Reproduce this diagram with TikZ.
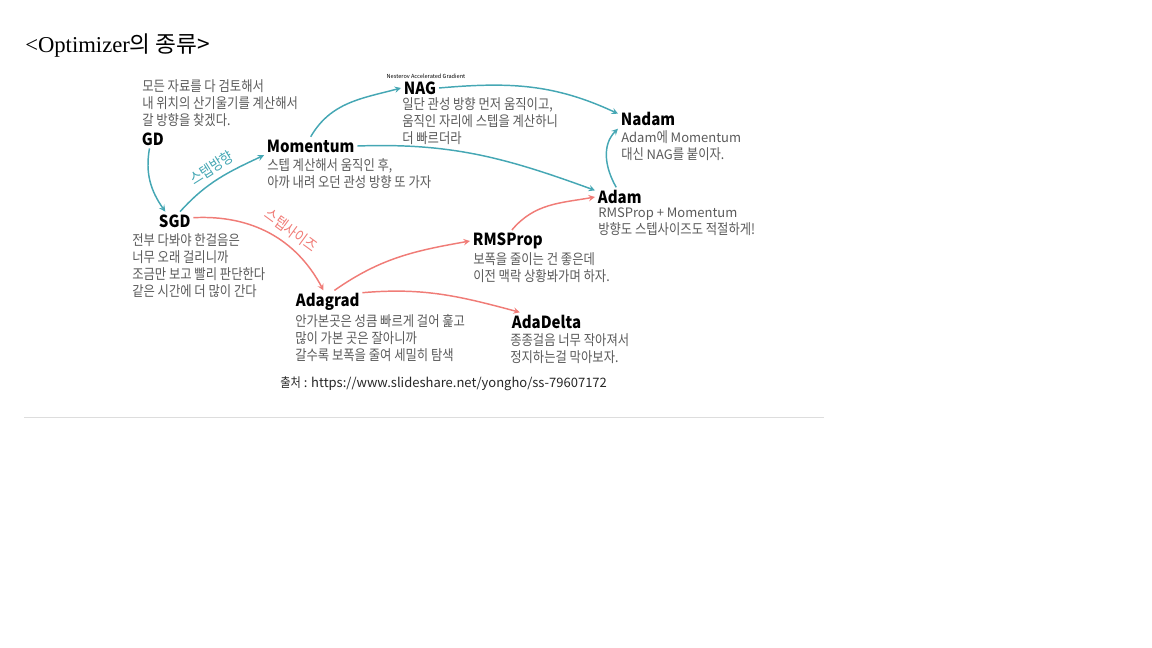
\documentclass[tikz,border=0pt]{standalone}
\usepackage{fontspec}
\usepackage{tikz}
\setmainfont{Noto Sans CJK KR}
\newfontfamily\kr[FakeStretch=0.86]{Noto Sans CJK KR}
\newfontfamily\lat{Noto Sans CJK KR}
\newfontfamily\namefont[FakeStretch=0.9]{Noto Sans CJK KR}
\newfontfamily\titlefont{Liberation Serif}
\newcommand\en[1]{{\lat\fontsize{9.75}{12.75}\selectfont #1}}
\definecolor{arrowteal}{HTML}{45A7B4}
\definecolor{arrowpink}{HTML}{F07C77}
\definecolor{desctext}{HTML}{5A5A5A}
\definecolor{rulegray}{HTML}{DDDDDD}

\begin{document}
\begin{tikzpicture}[x=0.75pt, y=-0.75pt, >=stealth,
	algo/.style={anchor=west, inner sep=2pt, font=\namefont\bfseries\fontsize{12.5}{14}\selectfont},
	desc/.style={anchor=north west, align=left, inner sep=0pt, text=desctext,
		font=\kr\fontsize{10.75}{12.75}\selectfont},
	tealline/.style={draw=arrowteal, line width=1.1pt, ->},
	pinkline/.style={draw=arrowpink, line width=1.1pt, ->},
	steplabel/.style={font=\kr\fontsize{11.5}{12}\selectfont, inner sep=0pt}]
				\useasboundingbox (0,0) rectangle (1152,648);
				\node[anchor=west, inner sep=0pt] (title) at(25,46){\fontsize{17}{20}\selectfont{\titlefont <Optimizer}{\lat 의 종류>}};
				% optimizers
				\node[algo] (gd) at(139,139){GD};
				\node[algo] (sgd) at(156,221){SGD};
				\node[algo] (momentum) at(264,146){Momentum};
				\node[algo] (nag) at(401,88){NAG};
				\node[algo] (nadam) at(618,119){Nadam};
				\node[algo] (adam) at(595,197){Adam};
				\node[algo] (rmsprop) at(470,241){RMSProp};
				\node[algo] (adagrad) at(293,302){Adagrad};
				\node[algo] (adadelta) at(509,322){AdaDelta};
				\node[inner sep=0pt, font=\lat\fontsize{4.2}{5}\selectfont] (nagfull) at(426,76){Nesterov Accelerated Gradient};
				% descriptions
				\node[desc] (gddesc) at(142,79){모든 자료를 다 검토해서\\내 위치의 산기울기를 계산해서\\갈 방향을 찾겠다.};
				\node[desc] (sgddesc) at(132,233){전부 다봐야 한걸음은\\너무 오래 걸리니까\\조금만 보고 빨리 판단한다\\같은 시간에 더 많이 간다};
				\node[desc] (momentumdesc) at(267,158){스텝 계산해서 움직인 후,\\아까 내려 오던 관성 방향 또 가자};
				\node[desc] (nagdesc) at(402,97){일단 관성 방향 먼저 움직이고,\\움직인 자리에 스텝을 계산하니\\더 빠르더라};
				\node[desc] (nadamdesc) at(621,130){\en{Adam}에 \en{Momentum}\\대신 \en{NAG}를 붙이자.};
				\node[desc] (adamdesc) at(598,208){\en{RMSProp + Momentum}\\방향도 스텝사이즈도 적절하게!};
				\node[desc] (rmspropdesc) at(473,252){보폭을 줄이는 건 좋은데\\이전 맥락 상황봐가며 하자.};
				\node[desc] (adagraddesc) at(295,314){안가본곳은 성큼 빠르게 걸어 훑고\\많이 가본 곳은 잘아니까\\갈수록 보폭을 줄여 세밀히 탐색};
				\node[desc] (adadeltadesc) at(510,333){종종걸음 너무 작아져서\\정지하는걸 막아보자.};
				\node[anchor=west, inner sep=0pt, text=black!85, font=\lat\fontsize{9.75}{12}\selectfont] (source) at(280,384){{\kr 출처} : https://www.slideshare.net/yongho/ss-79607172};
				% bottom rule
				\coordinate (ruleleft) at(24,417);
				\coordinate (ruleright) at(824,417);
				\draw[rulegray, line width=0.75pt] (ruleleft) -- (ruleright);
				% connections
				\draw[tealline] (gd.250) to[out=260, in=125] (sgd.135);
				\draw[tealline] (sgd.60) to[out=48, in=205] node[pos=0.5, sloped, above=4pt, steplabel, text=arrowteal]{스텝방향} (momentum.south west);
				\draw[tealline] (momentum.north) to[out=60, in=195] (nag.west);
				\draw[tealline] (nag.east) to[out=5, in=155] (nadam.170);
				\draw[tealline] (momentum.east) to[out=2, in=160] (adam.165);
				\draw[tealline] (adam.110) to[out=120, in=225] (nadam.south west);
				\draw[pinkline] (sgd.10) to[out=3, in=118] node[pos=0.6, sloped, above=5pt, steplabel, text=arrowpink]{스텝사이즈} (adagrad.110);
				\draw[pinkline] (adagrad.60) to[out=35, in=190] (rmsprop.west);
				\draw[pinkline] (rmsprop.70) to[out=50, in=190] (adam.west);
				\draw[pinkline] (adagrad.15) to[out=5, in=165] (adadelta.160);
			\end{tikzpicture}
\end{document}
